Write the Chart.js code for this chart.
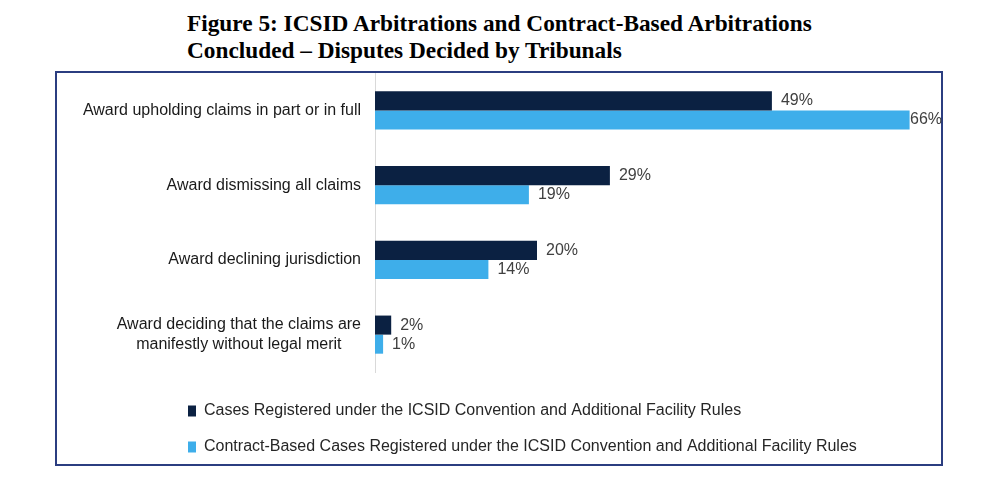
<!DOCTYPE html>
<html>
<head>
<meta charset="utf-8">
<script src="https://cdn.jsdelivr.net/npm/chart.js@4.4.1/dist/chart.umd.min.js"></script>
<style>
  html, body { margin: 0; padding: 0; background: #fff; }
  body { width: 1000px; height: 497px; position: relative; overflow: hidden; }
  #title {
    position: absolute; left: 187px; top: 10px;
    font: bold 23.3px/27px "Liberation Serif", "Times New Roman", serif;
    color: #000;
  }
  #frame {
    position: absolute; left: 55px; top: 71px; width: 888px; height: 395px;
    box-sizing: border-box; border: 2px solid #2b3d80;
  }
  #wrap { position: absolute; left: 0; top: 0; width: 1000px; height: 497px; }
</style>
</head>
<body>
<div id="title">Figure 5: ICSID Arbitrations and Contract-Based Arbitrations<br>Concluded – Disputes Decided by Tribunals</div>
<div id="frame"></div>
<div id="wrap"><canvas id="chart"></canvas></div>
<script>
const categories = [
  ['Award upholding claims in part or in full'],
  ['Award dismissing all claims'],
  ['Award declining jurisdiction'],
  ['Award deciding that the claims are', 'manifestly without legal merit']
];
const seriesNames = [
  'Cases Registered under the ICSID Convention and Additional Facility Rules',
  'Contract-Based Cases Registered under the ICSID Convention and Additional Facility Rules'
];
const icsidValues = [49, 29, 20, 2];
const contractValues = [66, 19, 14, 1];

const FONT = '"Liberation Sans", Arial, sans-serif';

// category labels drawn by hand so the two-line one is centred like the original
const sideLabels = {
  id: 'sideLabels',
  afterDraw(chart) {
    const { ctx, chartArea } = chart;
    const y = chart.scales.y;
    ctx.save();
    ctx.font = '16px ' + FONT;
    ctx.fillStyle = '#1a1a1a';
    ctx.textAlign = 'center';
    ctx.textBaseline = 'middle';
    const right = chartArea.left - 14;
    const lh = 20;
    categories.forEach((lines, i) => {
      const cy = y.getPixelForTick(i);
      const w = Math.max(...lines.map(l => ctx.measureText(l).width));
      const cx = right - w / 2;
      lines.forEach((l, j) => {
        ctx.fillText(l, cx, cy + (j - (lines.length - 1) / 2) * lh);
      });
    });
    ctx.restore();
  }
};

const valueLabels = {
  id: 'valueLabels',
  afterDatasetsDraw(chart) {
    const { ctx, chartArea } = chart;
    ctx.save();
    ctx.font = '16px ' + FONT;
    ctx.fillStyle = '#404040';
    ctx.textAlign = 'left';
    ctx.textBaseline = 'middle';
    chart.data.datasets.forEach((ds, di) => {
      chart.getDatasetMeta(di).data.forEach((bar, i) => {
        const txt = ds.data[i] + '%';
        const w = ctx.measureText(txt).width;
        const x = Math.min(bar.x + 9, chartArea.right - w);
        ctx.fillText(txt, x, bar.y);
      });
    });
    ctx.restore();
  }
};

// legend rows sit left-aligned under the category labels
const legendPlace = {
  id: 'legendPlace',
  afterLayout(chart) {
    const lg = chart.legend;
    const pad = lg.options.labels.padding;
    const dx = (188 - pad) - lg.left;
    const dy = (411 - pad - 8) - lg.top;
    lg.left += dx;
    lg.top += dy;
    lg.bottom += dy;
    lg.right = Math.max(lg.right, 990);
  }
};

new Chart(document.getElementById('chart'), {
  type: 'bar',
  data: {
    labels: categories,
    datasets: [
      { label: seriesNames[0], data: icsidValues, backgroundColor: '#0b2142' },
      { label: seriesNames[1], data: contractValues, backgroundColor: '#3eaeea' }
    ]
  },
  options: {
    indexAxis: 'y',
    responsive: true,
    maintainAspectRatio: false,
    animation: false,
    devicePixelRatio: 1,
    categoryPercentage: 0.51,
    barPercentage: 1,
    layout: { padding: { left: 56, top: 73, right: 58, bottom: 43 } },
    plugins: {
      title: { display: false },
      tooltip: { enabled: false },
      legend: {
        position: 'bottom',
        align: 'start',
        labels: {
          boxWidth: 8,
          boxHeight: 11,
          padding: 20,
          color: '#262626',
          font: { family: FONT, size: 16 }
        }
      }
    },
    scales: {
      x: { display: false, min: 0, max: 70 },
      y: {
        grid: { display: false, drawTicks: false },
        border: { display: true, color: '#d9d9d9', width: 1 },
        ticks: { display: false },
        afterFit(scale) { scale.width = 319; }
      }
    }
  },
  plugins: [sideLabels, valueLabels, legendPlace]
});
</script>
</body>
</html>
